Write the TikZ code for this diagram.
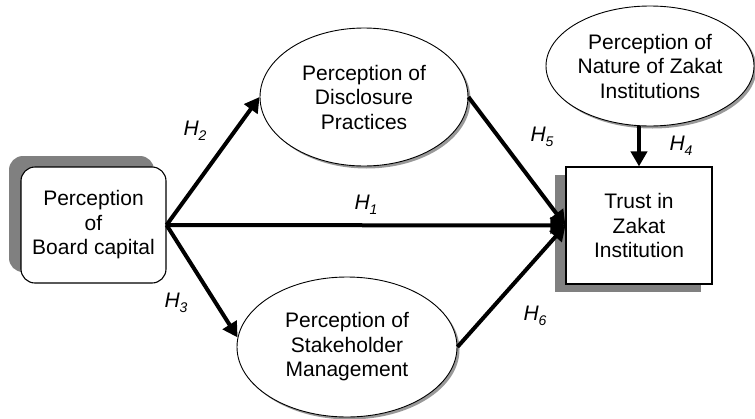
\documentclass[tikz,border=0pt]{standalone}
\usepackage{fontspec}
\setmainfont{Liberation Sans}
\usetikzlibrary{arrows.meta,shapes.geometric,shadows}
\definecolor{shadowgray}{RGB}{128,128,128}
\newcommand\hyp[1]{{\itshape H\raisebox{-0.45ex}{\fontsize{14}{14}\selectfont #1}}}
\begin{document}
\begin{tikzpicture}[x=1pt,y=-1pt,
  txt/.style={font=\fontsize{21}{24.5}\selectfont, align=center, text=black},
  rbox/.style={txt, draw=black, line width=1.1pt, fill=white, rounded corners=14pt,
    minimum width=145pt, minimum height=116pt, inner sep=0pt,
    drop shadow={shadow xshift=-12pt, shadow yshift=11pt, fill=shadowgray, opacity=1}},
  sbox/.style={txt, draw=black, line width=1.1pt, fill=white,
    minimum width=146pt, minimum height=117pt, inner sep=0pt,
    drop shadow={shadow xshift=-11pt, shadow yshift=-8pt, fill=shadowgray, opacity=1}},
  ell/.style={txt, ellipse, draw=black, line width=0.9pt, fill=white, inner sep=0pt,
    drop shadow={shadow xshift=2.5pt, shadow yshift=-2.5pt, fill=shadowgray!80, opacity=1}},
  arr/.style={line width=4pt, -{Triangle[length=15pt,width=16pt]}},
  lab/.style={font=\fontsize{21}{24}\selectfont, inner sep=0pt}
]
\useasboundingbox (0,0) rectangle (755,418);

\node[rbox] (board) at (93.5,225) {Perception\\of\\Board capital};
\node[sbox] (trust) at (639,225.5) {Trust in\\Zakat\\Institution};
\node[ell, minimum width=208pt, minimum height=138pt] (disc) at (364,97) {Perception of\\Disclosure\\Practices};
\node[ell, minimum width=220pt, minimum height=140pt] (stake) at (347,347) {Perception of\\Stakeholder\\Management};
\node[ell, minimum width=208pt, minimum height=120pt] (nature) at (650,66) {Perception of\\Nature of Zakat\\Institutions};

\draw[arr] (board.east) -- (trust.west);
\draw[arr] (board.east) -- (disc.west);
\draw[arr] (board.east) -- (stake.175);
\draw[arr] (disc.east) -- (trust.west);
\draw[arr] (stake.east) -- (trust.west);
\draw[arr] (nature.south -| trust.north) -- (trust.north);

\node[lab] (h1) at (366,205) {\hyp{1}};
\node[lab] (h2) at (195,131) {\hyp{2}};
\node[lab] (h3) at (176,303) {\hyp{3}};
\node[lab] (h4) at (681,146) {\hyp{4}};
\node[lab] (h5) at (542,137) {\hyp{5}};
\node[lab] (h6) at (535,316) {\hyp{6}};
\end{tikzpicture}
\end{document}
